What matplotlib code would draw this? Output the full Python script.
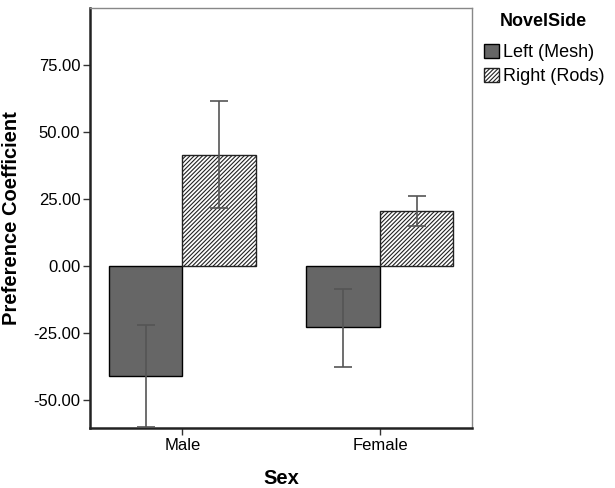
import numpy as np
import matplotlib
matplotlib.use("Agg")
import matplotlib.pyplot as plt

plt.rcParams['font.family'] = ['Liberation Sans', 'DejaVu Sans']
plt.rcParams['hatch.linewidth'] = 0.8

# data
sexes = ["Male", "Female"]
sides = ["Left (Mesh)", "Right (Rods)"]
means = {
    "Left (Mesh)": [-41.0, -22.9],
    "Right (Rods)": [41.4, 20.5],
}
err_hi = {
    "Left (Mesh)": [-22.0, -8.6],
    "Right (Rods)": [61.6, 26.1],
}
err_lo = {
    "Left (Mesh)": [-60.1, -37.6],
    "Right (Rods)": [21.6, 14.7],
}
yticks = [-50, -25, 0, 25, 50, 75]

fig = plt.figure(figsize=(6.15, 4.88), dpi=100)
ax = fig.add_axes([90/615, 60/488, 382/615, 420/488])

x = np.arange(len(sexes))
w = 0.372
styles = {
    "Left (Mesh)": dict(color="#666666", edgecolor="black", hatch=None),
    "Right (Rods)": dict(color="white", edgecolor="#222222", hatch="////////"),
}
handles = []
for k, side in enumerate(sides):
    pos = x + (k - 0.5) * w
    m = np.array(means[side])
    st = styles[side]
    b = ax.bar(pos, m, w, color=st["color"], edgecolor=st["edgecolor"],
               hatch=st["hatch"], linewidth=1.0, zorder=2)
    handles.append(b)
    lo = m - np.array(err_lo[side])
    hi = np.array(err_hi[side]) - m
    ax.errorbar(pos, m, yerr=[lo, hi], fmt="none", ecolor="#555555",
                elinewidth=1.2, capsize=6.5, capthick=1.2, zorder=3)

ax.set_xlim(-0.468, 1.466)
ax.set_ylim(-60.5, 96.2)
ax.set_xticks(x)
ax.set_xticklabels(sexes, fontsize=12)
ax.set_yticks(yticks)
ax.set_yticklabels(["%.2f" % v for v in yticks], fontsize=12)
ax.tick_params(axis="both", direction="out", length=5, width=1, color="#333333", pad=2)

for s in ["left", "bottom"]:
    ax.spines[s].set_linewidth(1.8)
    ax.spines[s].set_color("#222222")
for s in ["top", "right"]:
    ax.spines[s].set_linewidth(1.0)
    ax.spines[s].set_color("#888888")

fig.text(12/615, (488-218)/488, "Preference Coefficient", rotation=90,
         ha="center", va="center", fontsize=14.5, fontweight="bold")
fig.text(281/615, (488-479)/488, "Sex", ha="center", va="center",
         fontsize=14.5, fontweight="bold")

fig.text(543/615, (488-21)/488, "NovelSide", ha="center", va="center",
         fontsize=13, fontweight="bold")
fig.legend(handles, sides, loc="upper left", bbox_to_anchor=(484/615, (488-44)/488),
           frameon=False, fontsize=13, handlelength=0.85, handleheight=0.85,
           handletextpad=0.2, labelspacing=0.35, borderpad=0, borderaxespad=0)

fig.savefig("out.png", dpi=100)
